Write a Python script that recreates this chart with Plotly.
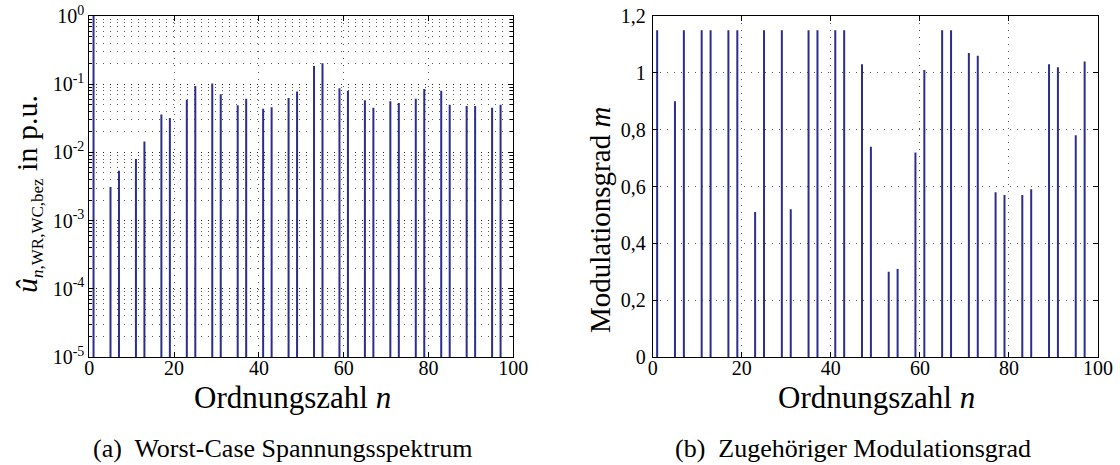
import plotly.graph_objects as go

# ---- data ----
orders = [1, 5, 7, 11, 13, 17, 19, 23, 25, 29, 31, 35, 37, 41, 43, 47, 49,
          53, 55, 59, 61, 65, 67, 71, 73, 77, 79, 83, 85, 89, 91, 95, 97]
u_wc = [1.0, 0.0031, 0.0054, 0.0080, 0.0144, 0.036, 0.032, 0.059, 0.094, 0.102,
        0.071, 0.049, 0.061, 0.0435, 0.046, 0.063, 0.078, 0.185, 0.203, 0.087,
        0.080, 0.058, 0.045, 0.056, 0.053, 0.061, 0.085, 0.080, 0.050, 0.048,
        0.048, 0.045, 0.050]
mod_m = [1.15, 0.90, 1.15, 1.15, 1.15, 1.15, 1.15, 0.51, 1.15, 1.15, 0.52, 1.15,
         1.15, 1.15, 1.15, 1.03, 0.74, 0.30, 0.31, 0.72, 1.01, 1.15, 1.15, 1.07,
         1.06, 0.58, 0.57, 0.57, 0.59, 1.03, 1.02, 0.78, 1.04]

x_ticks = [0, 20, 40, 60, 80, 100]
x_ticktext = ["0", "20", "40", "60", "80", "100"]
log_tickvals = [1e-5, 1e-4, 1e-3, 1e-2, 1e-1, 1e0]
log_ticktext = ["10<sup>-5</sup>", "10<sup>-4</sup>", "10<sup>-3</sup>",
                "10<sup>-2</sup>", "10<sup>-1</sup>", "10<sup>0</sup>"]
lin_tickvals = [0, 0.2, 0.4, 0.6, 0.8, 1.0, 1.2]
lin_ticktext = ["0", "0,2", "0,4", "0,6", "0,8", "1", "1,2"]

STEM = "#2B2E8C"
FONT = "Liberation Serif"
GRID = "rgba(0,0,0,0.65)"
DASH = "1px,6px"
TICKFONT = dict(family=FONT, size=20, color="black")

W, H = 1120, 465


def serif(labels):
    return ["<span style='font-family:Liberation Serif'>%s</span>" % t for t in labels]


def px_x(p):
    return p / W


def px_y(p):
    return (H - p) / H


def stems(xv, yv, base):
    xs, ys = [], []
    for x, y in zip(xv, yv):
        xs += [x, x, None]
        ys += [base, y, None]
    return xs, ys


fig = go.Figure()

xs, ys = stems(orders, u_wc, 1e-5)
fig.add_trace(go.Scatter(x=xs, y=ys, mode="lines", line=dict(color=STEM, width=2),
                         xaxis="x", yaxis="y", showlegend=False, hoverinfo="skip",
                         cliponaxis=False))
xs, ys = stems(orders, mod_m, 0)
fig.add_trace(go.Scatter(x=xs, y=ys, mode="lines", line=dict(color=STEM, width=2),
                         xaxis="x2", yaxis="y2", showlegend=False, hoverinfo="skip"))

YDOM = [px_y(357), px_y(16)]


def xaxis_cfg(domain, anchor):
    return dict(domain=domain, anchor=anchor, range=[0, 100],
                tickmode="array", tickvals=x_ticks, ticktext=serif(x_ticktext),
                ticks="inside", ticklen=5, tickcolor="black", ticklabelstandoff=-7,
                ticklabeloverflow="allow",
                showline=True, linecolor="black", linewidth=1, mirror="ticks",
                showgrid=True, gridcolor=GRID, griddash=DASH, gridwidth=1,
                zeroline=False, tickfont=TICKFONT)


def ann(text, x, y, size, angle=0):
    return dict(text=text, x=px_x(x), y=px_y(y), xref="paper", yref="paper",
                textangle=angle, showarrow=False, xanchor="center", yanchor="middle",
                font=dict(family=FONT, size=size, color="black"))


fig.update_layout(
    template="none",
    width=W, height=H,
    font=dict(family=FONT, color="black", size=20),
    paper_bgcolor="white", plot_bgcolor="white",
    margin=dict(l=0, r=0, t=0, b=0),
    xaxis=xaxis_cfg([px_x(89.3), px_x(513.3)], "y"),
    xaxis2=xaxis_cfg([px_x(652.7), px_x(1098)], "y2"),
    yaxis=dict(type="log", range=[-5, 0], domain=YDOM, anchor="x",
               tickmode="array", tickvals=log_tickvals, ticktext=serif(log_ticktext),
               ticks="inside", ticklen=5, tickcolor="black", ticklabeloverflow="allow",
               showline=True, linecolor="black", linewidth=1, mirror="ticks",
               showgrid=True, gridcolor=GRID, griddash=DASH, gridwidth=1, zeroline=False,
               minor=dict(dtick="D1", ticks="inside", ticklen=3, showgrid=True,
                          gridcolor=GRID, griddash=DASH, gridwidth=1, tickcolor="black"),
               tickfont=TICKFONT),
    yaxis2=dict(range=[0, 1.2], domain=YDOM, anchor="x2",
                tickmode="array", tickvals=lin_tickvals, ticktext=serif(lin_ticktext),
                ticks="inside", ticklen=5, tickcolor="black", ticklabelstandoff=2,
                ticklabeloverflow="allow",
                showline=True, linecolor="black", linewidth=1, mirror="ticks",
                showgrid=True, gridcolor=GRID, griddash=DASH, gridwidth=1, zeroline=False,
                tickfont=TICKFONT),
    annotations=[
        ann("<i>û</i><sub><span style='font-size:17px'><i>n</i>,WR,WC,bez</span></sub> in p.u.",
            28, 194, 30, -90),
        ann("Modulationsgrad <i>m</i>", 600, 220, 29, -90),
        ann("Ordnungszahl <i>n</i>", 292, 397, 31),
        ann("Ordnungszahl <i>n</i>", 876, 397, 31),
        ann("(a)  Worst-Case Spannungsspektrum", 282, 448, 26),
        ann("(b)  Zugehöriger Modulationsgrad", 853, 448, 26),
    ],
)

fig.write_html("out.html", config={"displayModeBar": False},
               post_script="document.body.style.margin='0px';")
